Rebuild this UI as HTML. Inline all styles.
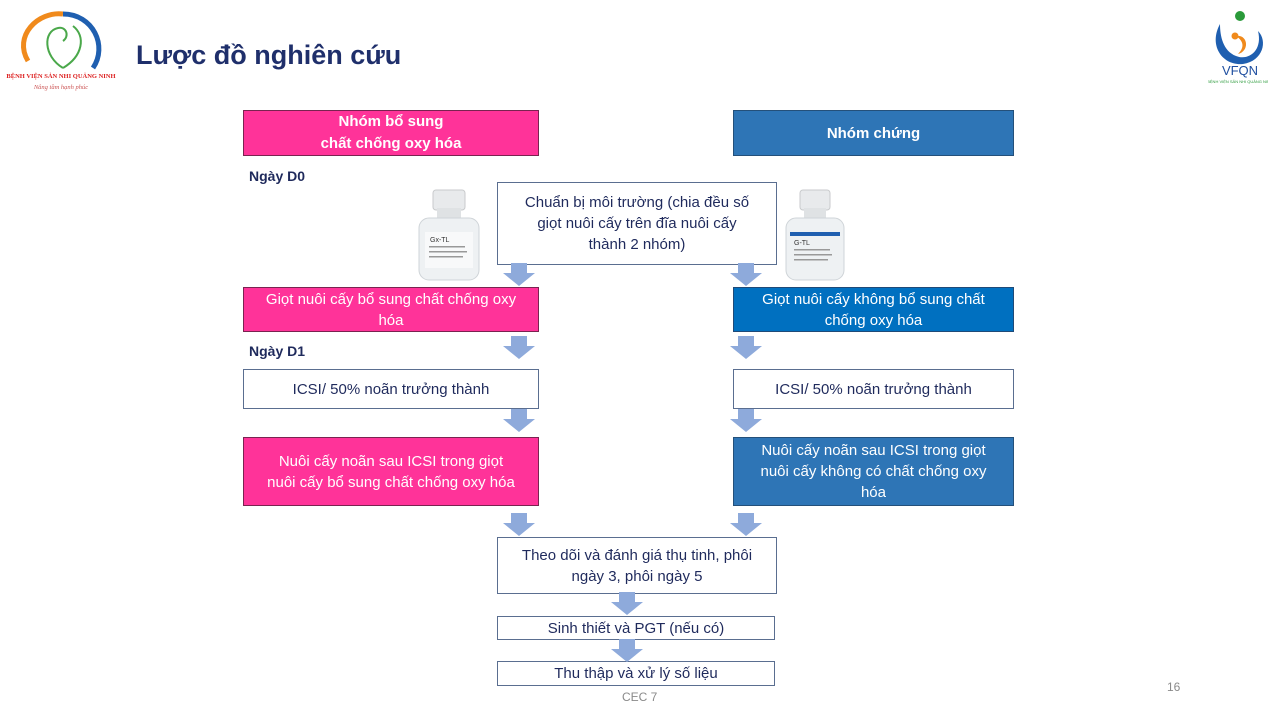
<!DOCTYPE html>
<html><head><meta charset="utf-8">
<style>
body{margin:0;width:1280px;height:720px;background:#fff;position:relative;overflow:hidden;font-family:"Liberation Sans","Noto Sans CJK SC",sans-serif;}
.b{position:absolute;box-sizing:border-box;display:flex;align-items:center;justify-content:center;text-align:center;font-size:15px;line-height:21px;color:#1f2a5c;border:1.5px solid #5a6e90;background:#fff;}
.pk{background:#ff3399;color:#fff;border-color:#7a2350;}
.bl{background:#2e75b6;color:#fff;border-color:#24507a;}
.bl2{background:#0070c0;color:#fff;border-color:#1f4a78;}
.t{position:absolute;}
.lab{position:absolute;font-weight:bold;font-size:14px;color:#1f2a5c;}
</style></head><body>
<!-- left logo -->
<svg class="t" style="left:6px;top:6px" width="110" height="88" viewBox="0 0 110 88">
<path d="M22 55 C7 30 32 5 57 8" stroke="#f08a1c" stroke-width="5" fill="none"/>
<path d="M57 8 C87 8 102 40 87 62" stroke="#1f5fb0" stroke-width="5" fill="none"/>
<path d="M57 62 C37 50 37 25 52 22 C60 20 64 30 57 35 M57 62 C77 50 80 30 67 20" stroke="#4aa84a" stroke-width="2" fill="none"/>
<text x="55" y="72" font-size="6.5" fill="#d22" text-anchor="middle" font-family="Liberation Serif" font-weight="bold">BỆNH VIỆN SẢN NHI QUẢNG NINH</text>
<text x="55" y="83" font-size="6.5" fill="#c55" text-anchor="middle" font-family="Liberation Serif" font-style="italic">Nâng tầm hạnh phúc</text>
</svg>
<div class="t" style="left:136px;top:40px;font-size:27px;font-weight:bold;color:#1f2f6b;">Lược đồ nghiên cứu</div>
<!-- right logo -->
<svg class="t" style="left:1208px;top:6px" width="60" height="80" viewBox="0 0 60 80">
<circle cx="32" cy="10" r="5" fill="#2a9a3a"/>
<path d="M12 18 C0 40 15 60 35 58 C55 55 60 35 50 25 C55 45 40 55 28 50 C15 45 12 30 12 18Z" fill="#1f5fb0"/>
<path d="M28 30 C40 28 42 45 30 48 C38 40 34 34 28 30Z" fill="#f08a1c"/>
<circle cx="27" cy="30" r="3.5" fill="#f08a1c"/>
<text x="32" y="69" font-size="13" fill="#1f4fa0" text-anchor="middle">VFQN</text>
<text x="32" y="77" font-size="4" fill="#2a9a3a" text-anchor="middle">BỆNH VIỆN SẢN NHI QUẢNG NINH</text>
</svg>

<div class="b pk" style="left:243px;top:110px;width:296px;height:46px;font-weight:bold;line-height:22px;">Nhóm bổ sung<br>chất chống oxy hóa</div>
<div class="b bl" style="left:733px;top:110px;width:281px;height:46px;font-weight:bold;">Nhóm chứng</div>
<div class="lab" style="left:249px;top:168px;">Ngày D0</div>
<div class="b" style="left:497px;top:182px;width:280px;height:83px;">Chuẩn bị môi trường (chia đều số<br>giọt nuôi cấy trên đĩa nuôi cấy<br>thành 2 nhóm)</div>

<!-- bottles -->
<svg class="t" style="left:413px;top:188px" width="72" height="95" viewBox="0 0 72 95">
<rect x="20" y="2" width="32" height="20" rx="3" fill="#e8eaec" stroke="#c8cacc"/>
<rect x="24" y="20" width="24" height="10" fill="#dfe2e4"/>
<rect x="6" y="30" width="60" height="62" rx="10" fill="#eef1f3" stroke="#cfd4d8"/>
<rect x="12" y="44" width="48" height="36" fill="#f8f9fa"/>
<text x="17" y="54" font-size="7" fill="#333">Gx-TL</text>
<rect x="16" y="58" width="36" height="1.5" fill="#999"/><rect x="16" y="63" width="38" height="1.5" fill="#999"/><rect x="16" y="68" width="34" height="1.5" fill="#999"/>
</svg>
<svg class="t" style="left:782px;top:188px" width="66" height="95" viewBox="0 0 66 95">
<rect x="18" y="2" width="30" height="20" rx="3" fill="#e8eaec" stroke="#c8cacc"/>
<rect x="22" y="20" width="22" height="10" fill="#dfe2e4"/>
<rect x="4" y="30" width="58" height="62" rx="10" fill="#eef1f3" stroke="#cfd4d8"/>
<rect x="8" y="44" width="50" height="4" fill="#1f5fb0"/>
<text x="12" y="57" font-size="7" fill="#333">G-TL</text>
<rect x="12" y="61" width="36" height="1.5" fill="#999"/><rect x="12" y="66" width="38" height="1.5" fill="#999"/><rect x="12" y="71" width="34" height="1.5" fill="#999"/>
</svg>

<div class="b pk" style="left:243px;top:287px;width:296px;height:45px;">Giọt nuôi cấy bổ sung chất chống oxy<br>hóa</div>
<div class="b bl2" style="left:733px;top:287px;width:281px;height:45px;">Giọt nuôi cấy không bổ sung chất<br>chống oxy hóa</div>
<div class="lab" style="left:249px;top:343px;">Ngày D1</div>
<div class="b" style="left:243px;top:369px;width:296px;height:40px;">ICSI/ 50% noãn trưởng thành</div>
<div class="b" style="left:733px;top:369px;width:281px;height:40px;">ICSI/ 50% noãn trưởng thành</div>
<div class="b pk" style="left:243px;top:437px;width:296px;height:69px;">Nuôi cấy noãn sau ICSI trong giọt<br>nuôi cấy bổ sung chất chống oxy hóa</div>
<div class="b bl" style="left:733px;top:437px;width:281px;height:69px;">Nuôi cấy noãn sau ICSI trong giọt<br>nuôi cấy không có chất chống oxy<br>hóa</div>
<div class="b" style="left:497px;top:537px;width:280px;height:57px;">Theo dõi và đánh giá thụ tinh, phôi<br>ngày 3, phôi ngày 5</div>
<div class="b" style="left:497px;top:616px;width:278px;height:24px;">Sinh thiết và PGT (nếu có)</div>
<div class="b" style="left:497px;top:661px;width:278px;height:25px;">Thu thập và xử lý số liệu</div>

<svg class="t" style="left:0;top:0" width="1280" height="720">
<defs><path id="ar" d="M-8 0 H8 V10 H16 L0 23 L-16 10 H-8Z" fill="#8eaadb"/></defs>
<use href="#ar" x="519" y="263"/><use href="#ar" x="746" y="263"/>
<use href="#ar" x="519" y="336"/><use href="#ar" x="746" y="336"/>
<use href="#ar" x="519" y="409"/><use href="#ar" x="746" y="409"/>
<use href="#ar" x="519" y="513"/><use href="#ar" x="746" y="513"/>
<use href="#ar" x="627" y="592"/><use href="#ar" x="627" y="639"/>
</svg>
<div class="t" style="left:622px;top:690px;font-size:12px;color:#8a8a8a;">CEC 7</div>
<div class="t" style="left:1167px;top:680px;font-size:12px;color:#8a8a8a;">16</div>
</body></html>
